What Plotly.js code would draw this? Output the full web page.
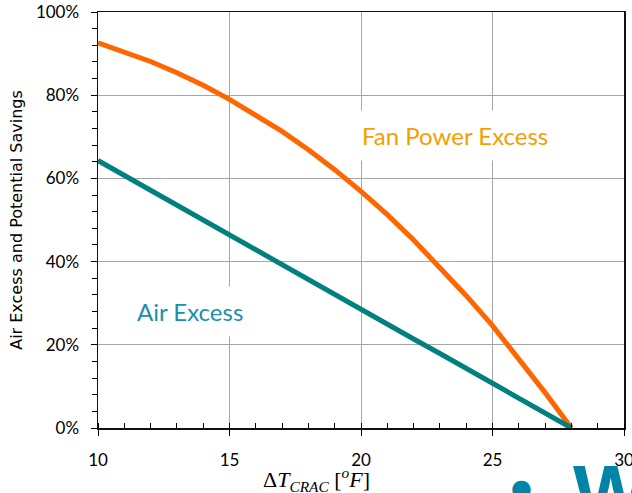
<!DOCTYPE html>
<html>
<head>
<meta charset="utf-8">
<script src="https://cdn.plot.ly/plotly-3.0.1.min.js"></script>
<style>html,body{margin:0;padding:0;overflow:hidden;background:#fff}#chart{width:632px;height:493px}</style>
</head>
<body>
<div id="chart"></div>
<script>
// Delta T across the CRAC unit (deg F)
const deltaT = [10, 11, 12, 13, 14, 15, 16, 17, 18, 19, 20, 21, 22, 23, 24, 25, 26, 27, 28];
// Fan power excess (fraction)
const fanPowerExcess = [0.926, 0.904, 0.881, 0.854, 0.824, 0.790, 0.753, 0.713, 0.669, 0.621, 0.569, 0.513, 0.452, 0.387, 0.318, 0.246, 0.166, 0.085, 0.0];
// Air excess (fraction)
const airExcess = [0.643, 0.607, 0.571, 0.536, 0.500, 0.464, 0.429, 0.393, 0.357, 0.321, 0.286, 0.250, 0.214, 0.179, 0.143, 0.107, 0.071, 0.036, 0.0];
const yTickVals = [0, 0.2, 0.4, 0.6, 0.8, 1.0];
const xTickVals = [10, 15, 20, 25, 30];

const labelFont = 'Lato, "Open Sans", sans-serif';

const traces = [
  {x: deltaT, y: fanPowerExcess, mode: 'lines', name: 'Fan Power Excess',
   line: {color: '#FF6600', width: 5}, hoverinfo: 'x+y'},
  {x: deltaT, y: airExcess, mode: 'lines', name: 'Air Excess',
   line: {color: '#00807F', width: 5}, hoverinfo: 'x+y'}
];

const layout = {
  width: 632, height: 493,
  margin: {l: 98, r: 8, t: 12, b: 65},
  paper_bgcolor: '#fff', plot_bgcolor: '#fff',
  showlegend: false,
  font: {family: labelFont, size: 17, color: '#000'},
  xaxis: {
    range: [10, 30], tickvals: xTickVals, ticktext: xTickVals.map(String),
    ticks: 'outside', ticklen: 6, tickcolor: '#000', tickwidth: 1,
    ticklabelstandoff: 10, ticklabeloverflow: 'allow',
    minor: {dtick: 1, ticks: 'inside', ticklen: 5, tickcolor: '#000', showgrid: false},
    showline: true, linecolor: '#111', linewidth: 1.5, mirror: true,
    showgrid: true, gridcolor: '#A6A6A6', gridwidth: 1, zeroline: false,
    tickfont: {family: labelFont, size: 17, color: '#000'}
  },
  yaxis: {
    range: [0, 1], tickvals: yTickVals, tickformat: '.0%',
    ticks: 'outside', ticklen: 6, tickcolor: '#000', tickwidth: 1,
    ticklabelstandoff: 8,
    minor: {dtick: 0.04, ticks: 'outside', ticklen: 5, tickcolor: '#000', showgrid: false},
    showline: true, linecolor: '#111', linewidth: 1.5, mirror: true,
    showgrid: true, gridcolor: '#A6A6A6', gridwidth: 1, zeroline: false,
    tickfont: {family: labelFont, size: 17, color: '#000'},
    title: {text: 'Air Excess and Potential Savings', standoff: 9,
            font: {family: '"DejaVu Sans", sans-serif', size: 16, color: '#000'}}
  },
  annotations: [
    {text: 'Fan Power Excess', xref: 'x', yref: 'y', x: 23.58, y: 0.702, showarrow: false,
     font: {family: labelFont, size: 24, color: '#F5A000'}, bgcolor: '#fff', borderpad: 10},
    {text: 'Air Excess', xref: 'x', yref: 'y', x: 13.5, y: 0.28, showarrow: false,
     font: {family: labelFont, size: 24, color: '#1A8FB0'}, bgcolor: '#fff', borderpad: 10},
    {text: 'Δ<i>T</i><sub><i>CRAC</i></sub> [<sup><i>o</i></sup><i>F</i>]', xref: 'paper', yref: 'paper',
     x: 0.416, y: -0.123, xanchor: 'center', yanchor: 'middle', showarrow: false,
     font: {family: '"Liberation Serif", "DejaVu Serif", serif', size: 22, color: '#000'}},
    {text: '●', xref: 'paper', yref: 'paper', x: 0.805, y: -0.145, xanchor: 'center', yanchor: 'middle',
     showarrow: false, font: {family: 'DejaVu Sans', size: 24, color: '#0085A8'}},
    {text: '<b>W</b>', xref: 'paper', yref: 'paper', x: 0.9, y: -0.046, xanchor: 'left', yanchor: 'top',
     showarrow: false, font: {family: '"Liberation Sans", Arial, sans-serif', size: 80, color: '#0085A8'}}
  ]
};

Plotly.newPlot('chart', traces, layout, {staticPlot: true, displayModeBar: false});
</script>
</body>
</html>
